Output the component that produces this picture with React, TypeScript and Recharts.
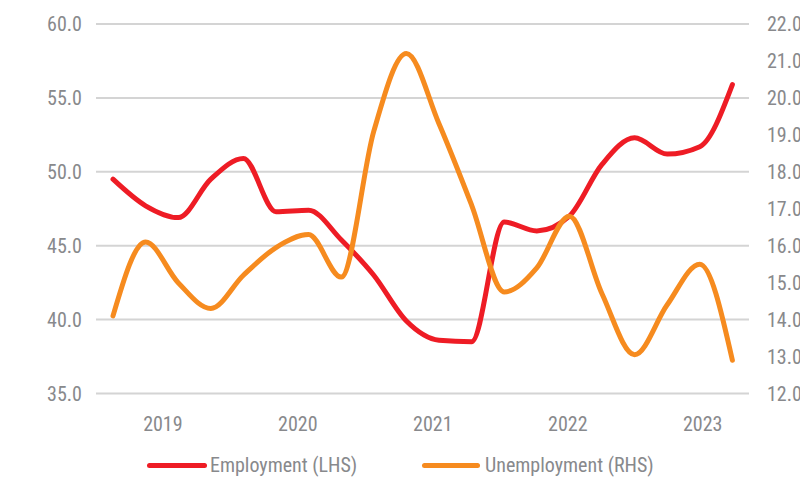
import { LineChart, Line, XAxis, YAxis, CartesianGrid, Legend } from "recharts";

const years = ["2019", "2020", "2021", "2022", "2023"];
const yearTicks = [1.53, 5.67, 9.81, 13.95, 18.09];

const employment = [49.5, 47.7, 46.9, 49.5, 50.9, 47.3, 47.4, 45.4, 43.0, 39.9, 38.6, 38.5, 46.6, 46.0, 47.0, 50.5, 52.3, 51.2, 51.7, 55.9];
const unemployment = [14.1, 16.1, 15.0, 14.3, 15.2, 15.95, 16.3, 15.15, 19.1, 21.2, 19.3, 17.1, 14.75, 15.4, 16.8, 14.7, 13.05, 14.4, 15.5, 12.9];

const leftTicks = [35, 40, 45, 50, 55, 60];
const rightTicks = [12, 13, 14, 15, 16, 17, 18, 19, 20, 21, 22];

const data = employment.map((e, i) => ({ idx: i, employment: e, unemployment: unemployment[i] }));

const FONT = "'Roboto Condensed', 'Liberation Sans Narrow', 'DejaVu Sans Condensed', Roboto, sans-serif";
const GREY = "#88898c";
const RED = "#ee1c25";
const ORANGE = "#f68b1f";

const tickStyle = { fill: GREY, fontSize: 20, fontFamily: FONT };

const renderLegend = () => (
  <div style={{ position: "relative", height: 24, fontFamily: FONT, fontSize: 20, color: GREY }}>
    <div style={{ position: "absolute", left: 147, top: 9, width: 60, height: 5, borderRadius: 3, background: RED }} />
    <span style={{ position: "absolute", left: 210, top: -1, whiteSpace: "nowrap" }}>Employment (LHS)</span>
    <div style={{ position: "absolute", left: 422, top: 9, width: 58, height: 5, borderRadius: 3, background: ORANGE }} />
    <span style={{ position: "absolute", left: 485, top: -1, whiteSpace: "nowrap" }}>Unemployment (RHS)</span>
  </div>
);

export default function App() {
  return (
    <div style={{ position: "absolute", left: 0, top: 0, background: "#fff" }}>
      <LineChart width={800} height={478} data={data} margin={{ top: 24, right: 0, bottom: 0, left: 0 }}>
        <CartesianGrid yAxisId="left" vertical={false} stroke="#d4d4d4" strokeWidth={2} />
        <XAxis
          dataKey="idx"
          type="number"
          domain={[0, 19]}
          ticks={yearTicks}
          tickFormatter={(v, i) => years[i]}
          padding={{ left: 17, right: 16.6 }}
          axisLine={false}
          tickLine={false}
          height={60.5}
          tickMargin={17}
          tick={tickStyle}
        />
        <YAxis
          yAxisId="left"
          domain={[35, 60]}
          ticks={leftTicks}
          tickFormatter={(v) => v.toFixed(1)}
          width={96}
          axisLine={false}
          tickLine={false}
          tickMargin={8}
          tick={tickStyle}
        />
        <YAxis
          yAxisId="right"
          orientation="right"
          domain={[12, 22]}
          ticks={rightTicks}
          tickFormatter={(v) => v.toFixed(1)}
          width={51}
          axisLine={false}
          tickLine={false}
          tickMargin={12}
          tick={{ ...tickStyle, textAnchor: "start" }}
        />
        <Legend content={renderLegend} verticalAlign="bottom" height={24} wrapperStyle={{ left: 0, bottom: 0, width: 800 }} />
        <Line yAxisId="left" type="monotone" dataKey="employment" stroke={RED} strokeWidth={5} strokeLinecap="round" dot={false} activeDot={false} isAnimationActive={false} />
        <Line yAxisId="right" type="monotone" dataKey="unemployment" stroke={ORANGE} strokeWidth={5} strokeLinecap="round" dot={false} activeDot={false} isAnimationActive={false} />
      </LineChart>
    </div>
  );
}
